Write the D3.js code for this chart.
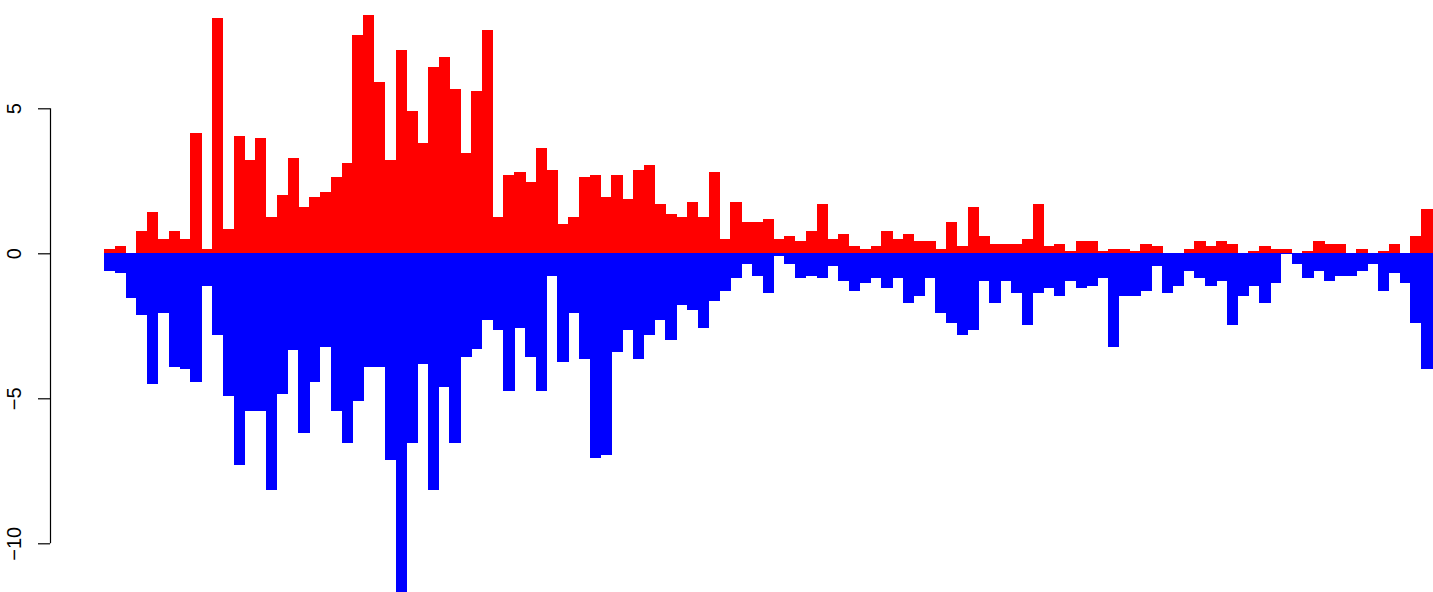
<!DOCTYPE html>
<html>
<head>
<meta charset="utf-8">
<script src="https://cdn.jsdelivr.net/npm/d3@7"></script>
<style>
  html, body { margin: 0; padding: 0; background: #fff; }
  svg { display: block; }
</style>
</head>
<body>
<svg id="chart" width="1433" height="592"></svg>
<script>
// Positive series (red)
const upValues = [
  0.15, 0.25, 0.00, 0.77, 1.42, 0.49, 0.77, 0.49, 4.15, 0.15,
  8.11, 0.84, 4.04, 3.22, 3.97, 1.25, 2.01, 3.29, 1.60, 1.94,
  2.11, 2.63, 3.11, 7.53, 8.22, 5.91, 3.22, 7.01, 4.91, 3.80,
  6.42, 6.77, 5.67, 3.46, 5.60, 7.70, 1.25, 2.70, 2.80, 2.46,
  3.63, 2.87, 1.01, 1.25, 2.63, 2.70, 1.94, 2.70, 1.87, 2.87,
  3.04, 1.70, 1.36, 1.25, 1.77, 1.25, 2.80, 0.49, 1.77, 1.08,
  1.08, 1.18, 0.49, 0.60, 0.42, 0.77, 1.70, 0.49, 0.67, 0.25,
  0.15, 0.25, 0.77, 0.49, 0.67, 0.42, 0.42, 0.15, 1.08, 0.25,
  1.60, 0.60, 0.32, 0.32, 0.32, 0.49, 1.70, 0.25, 0.32, 0.08,
  0.42, 0.42, 0.08, 0.15, 0.15, 0.08, 0.32, 0.25, 0.00, 0.00,
  0.15, 0.42, 0.25, 0.42, 0.32, 0.00, 0.08, 0.25, 0.15, 0.15,
  0.00, 0.08, 0.42, 0.32, 0.32, 0.00, 0.15, 0.00, 0.08, 0.32,
  0.00, 0.60, 1.53
];
// Negative series (blue)
const downValues = [
  -0.60, -0.67, -1.53, -2.12, -4.50, -2.05, -3.91, -3.98, -4.43, -1.13,
  -2.81, -4.91, -7.29, -5.43, -5.43, -8.15, -4.84, -3.32, -6.19, -4.43,
  -3.22, -5.43, -6.53, -5.08, -3.91, -3.91, -7.12, -11.80, -6.53, -3.81,
  -8.15, -4.60, -6.53, -3.57, -3.31, -2.30, -2.63, -4.74, -2.58, -3.57,
  -4.74, -0.78, -3.74, -2.05, -3.63, -7.05, -6.94, -3.39, -2.63, -3.63,
  -2.81, -2.30, -2.98, -1.77, -1.94, -2.56, -1.63, -1.29, -0.84, -0.36,
  -0.77, -1.36, -0.08, -0.36, -0.84, -0.77, -0.84, -0.43, -0.94, -1.29,
  -1.01, -0.84, -1.19, -0.84, -1.70, -1.46, -0.84, -2.05, -2.39, -2.81,
  -2.63, -0.94, -1.70, -0.94, -1.36, -2.46, -1.36, -1.19, -1.46, -0.94,
  -1.19, -1.12, -0.84, -3.22, -1.46, -1.46, -1.29, -0.43, -1.36, -1.12,
  -0.60, -0.84, -1.12, -0.94, -2.46, -1.46, -1.12, -1.70, -1.01, -0.02,
  -0.36, -0.84, -0.60, -0.94, -0.77, -0.77, -0.60, -0.36, -1.29, -0.67,
  -1.01, -2.39, -3.98
];
const yTicks = [5, 0, -5, -10];

const svg = d3.select("#chart");
const idx = d3.range(upValues.length);

const x = d3.scaleBand().domain(idx).range([104, 1432]).padding(0);
const y = d3.scaleLinear().domain([-10, 5]).range([543.3, 108.3]);

const bars = svg.append("g").attr("shape-rendering", "crispEdges");

bars.selectAll("rect.up").data(idx).join("rect")
  .attr("class", "up")
  .attr("x", i => x(i))
  .attr("width", x.bandwidth() + 0.5)
  .attr("y", i => y(Math.max(0, upValues[i])))
  .attr("height", i => Math.abs(y(upValues[i]) - y(0)))
  .attr("fill", "#ff0000");

bars.selectAll("rect.down").data(idx).join("rect")
  .attr("class", "down")
  .attr("x", i => x(i))
  .attr("width", x.bandwidth() + 0.5)
  .attr("y", y(0))
  .attr("height", i => Math.abs(y(downValues[i]) - y(0)))
  .attr("fill", "#0000ff");

// Y axis
const axis = d3.axisLeft(y)
  .tickValues(yTicks)
  .tickSize(12)
  .tickFormat(d => String(d).replace("-", "\u2212"));

const ag = svg.append("g")
  .attr("transform", "translate(50,0)")
  .call(axis);

ag.select(".domain")
  .attr("d", `M0.5,${y(5)}V${y(-10)}`)
  .attr("stroke", "#000")
  .attr("stroke-width", 1.2);
ag.selectAll(".tick line").attr("stroke", "#000").attr("stroke-width", 1.2);
ag.selectAll(".tick text")
  .attr("x", null).attr("dy", null)
  .attr("transform", "translate(-29.5,0) rotate(-90)")
  .attr("text-anchor", "middle")
  .attr("fill", "#000")
  .style("font-family", "'Liberation Sans', Arial, sans-serif")
  .style("font-size", "20px");
</script>
</body>
</html>
